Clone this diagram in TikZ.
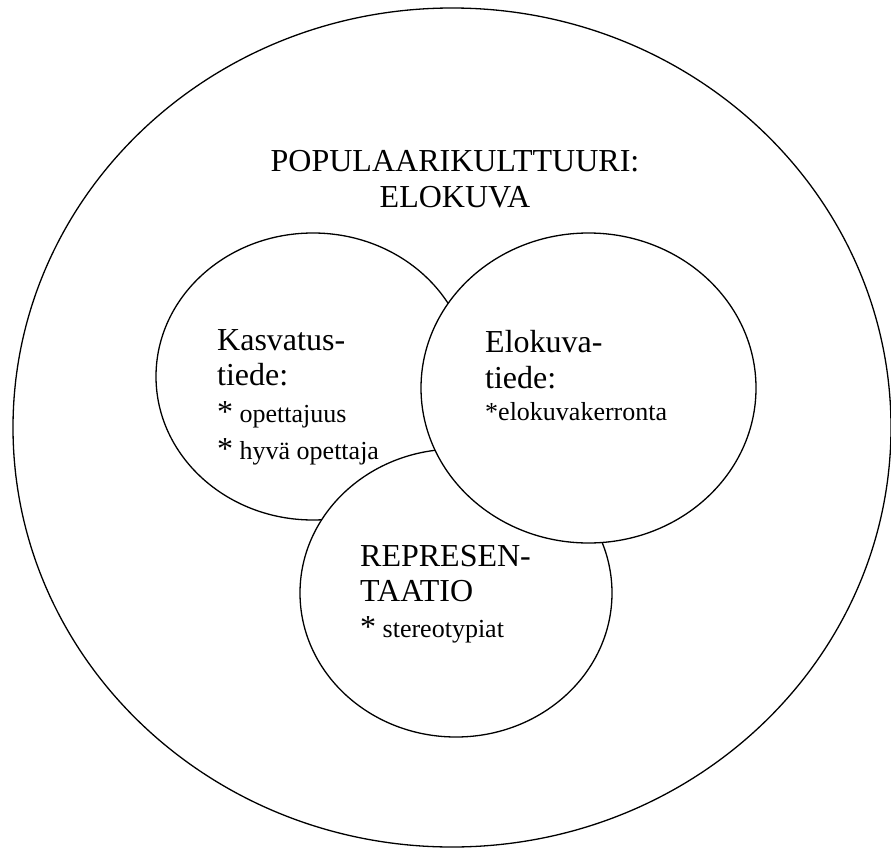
\documentclass[tikz,border=0pt]{standalone}
\usepackage{fontspec}
\setmainfont{Liberation Serif}
\usepackage{tikz}
\usetikzlibrary{shapes.geometric}
\tikzstyle{ring} = [ellipse, draw=black, line width=1.3pt, fill=white, inner sep=0pt]
\tikzstyle{headtext} = [font=\fontsize{32}{36}\selectfont, inner sep=0pt]
\tikzstyle{itemtext} = [font=\fontsize{26}{30}\selectfont, inner sep=0pt]
\newcommand{\bigast}{{\fontsize{32}{36}\selectfont *}}

\begin{document}
\begin{tikzpicture}[x=1pt, y=-1pt]
\useasboundingbox (0,0) rectangle (891,848);
\node [ring, minimum width=878pt, minimum height=839pt] (P) at (452, 427.5) {};
\node [ring, minimum width=314pt, minimum height=287pt] (K) at (313, 376.5) {};
\node [ring, minimum width=312pt, minimum height=288pt] (R) at (456, 593) {};
\node [ring, minimum width=335pt, minimum height=310pt] (E) at (588.5, 388) {};
\node [headtext, anchor=base] (P1) at (455, 171) {POPULAARIKULTTUURI:};
\node [headtext, anchor=base] (P2) at (455, 207) {ELOKUVA};
\node [headtext, anchor=base west] (K1) at (217, 350) {Kasvatus-};
\node [headtext, anchor=base west] (K2) at (217, 385) {tiede:};
\node [itemtext, anchor=base west] (K3) at (217, 422) {\bigast{} opettajuus};
\node [itemtext, anchor=base west] (K4) at (217, 459) {\bigast{} hyvä opettaja};
\node [headtext, anchor=base west] (E1) at (485, 352) {Elokuva-};
\node [headtext, anchor=base west] (E2) at (485, 388) {tiede:};
\node [itemtext, anchor=base west] (E3) at (485, 420) {*elokuvakerronta};
\node [headtext, anchor=base west] (R1) at (360, 566) {REPRESEN-};
\node [headtext, anchor=base west] (R2) at (360, 601) {TAATIO};
\node [itemtext, anchor=base west] (R3) at (360, 637) {\bigast{} stereotypiat};
\end{tikzpicture}
\end{document}
